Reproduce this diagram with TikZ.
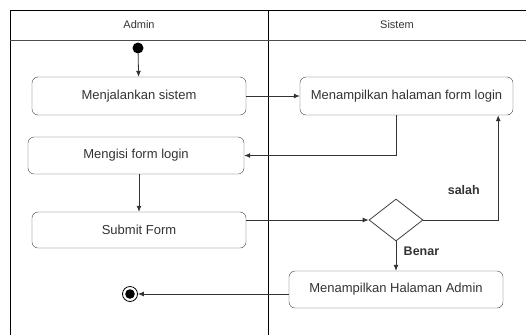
\documentclass[tikz,border=0pt]{standalone}
\usepackage{fontspec}
\setmainfont{Liberation Sans}
\usetikzlibrary{shapes.geometric,arrows.meta}
\begin{document}
\begin{tikzpicture}[x=1pt,y=-1pt,
        aksi/.style={draw=black!75,rounded corners=6pt,minimum width=214pt,minimum height=38pt,
                     inner sep=0pt,text=black!80,font=\fontsize{13}{15}\selectfont},
        panah/.style={-{Latex[length=6pt,width=5pt]},draw=black!80,line width=0.8pt},
        ket/.style={font=\bfseries\fontsize{12.5}{14}\selectfont,text=black!80}]
        \useasboundingbox (0,0) rectangle (526,335);
        % swimlanes
        \draw[line width=0.9pt] (10,335) -- (10,10) -- (526,10);
        \draw[line width=0.9pt] (268,10) -- (268,335);
        \draw[line width=0.9pt,black!70] (10,40) -- (526,40);
        \path (139,25) node[font=\fontsize{11}{13}\selectfont,text=black!80](lane1){Admin};
        \path (397,25) node[font=\fontsize{11}{13}\selectfont,text=black!80](lane2){Sistem};

        \path (138,48) node[circle,fill,minimum size=11pt,inner sep=0pt](mulai){};
        \path (139,96) node[aksi](jalan){Menjalankan sistem};
        \path (406.5,96) node[aksi,minimum width=213pt](tampil){Menampilkan halaman form login};
        \path (136,155.5) node[aksi,minimum width=216pt,minimum height=37pt](isi){Mengisi form login};
        \path (139,230) node[aksi,minimum height=36pt](submit){Submit Form};
        \path (396,220) node[diamond,draw=black!75,line width=0.8pt,minimum width=54pt,minimum height=42pt,inner sep=0pt](cek){};
        \path (396,289.5) node[aksi,minimum height=37pt](hasil){Menampilkan Halaman Admin};
        \path (130,294) node[circle,draw,line width=0.8pt,minimum size=15pt,inner sep=0pt,
              path picture={\fill (path picture bounding box.center) circle (4.8pt);}](selesai){};

        \draw[panah] (mulai) -- (jalan);
        \draw[panah] (jalan) -- (tampil);
        \draw[panah] (tampil.south -| cek) |- (isi.east);
        \draw[panah] (isi.south -| submit) -- (submit.north);
        \draw[panah] (submit.east |- cek.west) -- (cek.west);
        \draw[panah] (cek.east) -| node[ket,pos=0.27,above=22pt]{salah} ([xshift=-15pt]tampil.south east);
        \draw[panah] (cek.south) -- node[ket,pos=0.35,right=4pt]{Benar} (hasil.north);
        \draw[panah] (hasil.west |- selesai) -- (selesai);


    \end{tikzpicture}
\end{document}
